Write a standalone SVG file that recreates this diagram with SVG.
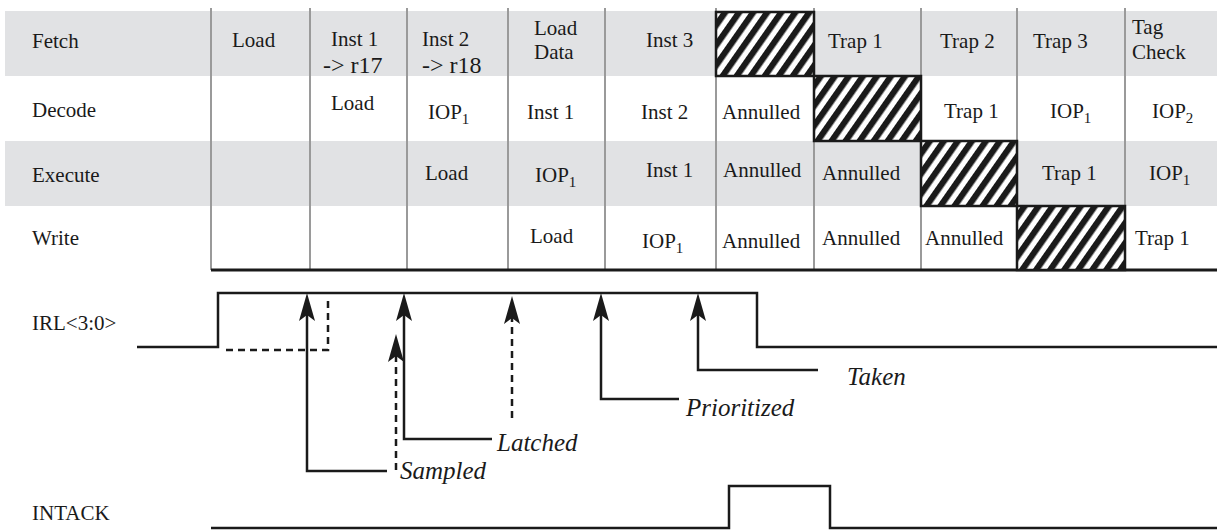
<svg xmlns="http://www.w3.org/2000/svg" width="1217" height="530" viewBox="0 0 1217 530">
<style>
.t{font-family:"Liberation Serif","Times New Roman",serif;font-size:21px;fill:#1a1a1a}
.big{font-size:24px}
.it{font-family:"Liberation Serif","Times New Roman",serif;font-style:italic;font-size:25px;fill:#1a1a1a}
.band{fill:#e1e2e4}
.grid{stroke:#9a9a9a;stroke-width:2;fill:none}
.sig{stroke:#1a1a1a;stroke-width:2.5;fill:none}
.dash{stroke:#1a1a1a;stroke-width:2.5;fill:none;stroke-dasharray:7 5}
.hatch{fill:url(#stripes);stroke:#1a1a1a;stroke-width:2.5}
</style>
<defs>
<pattern id="stripes" patternUnits="userSpaceOnUse" width="11.5" height="20" patternTransform="rotate(35)">
<rect width="11.5" height="20" fill="#fff"/>
<rect width="6.2" height="20" fill="#1a1a1a"/>
</pattern>
<marker id="ah" viewBox="0 0 28 16" markerWidth="28" markerHeight="16" refX="10" refY="8" orient="auto" markerUnits="userSpaceOnUse">
<path d="M0,0 L28,8 L0,16 L6,8 Z" fill="#1a1a1a"/>
</marker>
</defs>
<g id="table-bg">
<rect class="band" x="5" y="11" width="1212" height="65"/>
<rect class="band" x="5" y="141" width="1212" height="65"/>
</g>
<g id="table-grid">
<path class="grid" d="M211 8V270M310 8V270M407 8V270M508 8V270M605 8V270M716 8V270M814 8V270M921 8V270M1017 8V270M1125 8V270"/>
<line x1="211" y1="270" x2="1217" y2="270" stroke="#1a1a1a" stroke-width="3"/>
</g>
<g id="hatch-blocks">
<rect class="hatch" x="716" y="12" width="98" height="64"/>
<rect class="hatch" x="814" y="76" width="107" height="65"/>
<rect class="hatch" x="921" y="141" width="96" height="65"/>
<rect class="hatch" x="1017" y="206" width="108" height="64"/>
</g>
<g id="row-fetch">
<text class="t" x="32" y="48">Fetch</text>
<text class="t" x="232" y="47">Load</text>
<text class="t" x="331" y="46">Inst 1</text>
<text class="t big" x="323" y="73">-&gt; r17</text>
<text class="t" x="422" y="46">Inst 2</text>
<text class="t big" x="422" y="73">-&gt; r18</text>
<text class="t" x="534" y="35">Load</text>
<text class="t" x="534" y="59">Data</text>
<text class="t" x="646" y="47">Inst 3</text>
<text class="t" x="828" y="48">Trap 1</text>
<text class="t" x="940" y="48">Trap 2</text>
<text class="t" x="1033" y="48">Trap 3</text>
<text class="t" x="1132" y="34">Tag</text>
<text class="t" x="1132" y="59">Check</text>
</g>
<g id="row-decode">
<text class="t" x="32" y="117">Decode</text>
<text class="t" x="331" y="110">Load</text>
<text class="t" x="428" y="119">IOP<tspan font-size="15" dy="5">1</tspan></text>
<text class="t" x="527" y="119">Inst 1</text>
<text class="t" x="641" y="119">Inst 2</text>
<text class="t" x="722" y="119">Annulled</text>
<text class="t" x="944" y="118">Trap 1</text>
<text class="t" x="1050" y="118">IOP<tspan font-size="15" dy="5">1</tspan></text>
<text class="t" x="1152" y="118">IOP<tspan font-size="15" dy="5">2</tspan></text>
</g>
<g id="row-execute">
<text class="t" x="32" y="182">Execute</text>
<text class="t" x="425" y="180">Load</text>
<text class="t" x="535" y="182">IOP<tspan font-size="15" dy="5">1</tspan></text>
<text class="t" x="646" y="177">Inst 1</text>
<text class="t" x="723" y="177">Annulled</text>
<text class="t" x="822" y="180">Annulled</text>
<text class="t" x="1042" y="180">Trap 1</text>
<text class="t" x="1149" y="180">IOP<tspan font-size="15" dy="5">1</tspan></text>
</g>
<g id="row-write">
<text class="t" x="32" y="245">Write</text>
<text class="t" x="530" y="243">Load</text>
<text class="t" x="642" y="248">IOP<tspan font-size="15" dy="5">1</tspan></text>
<text class="t" x="722" y="248">Annulled</text>
<text class="t" x="822" y="245">Annulled</text>
<text class="t" x="925" y="245">Annulled</text>
<text class="t" x="1135" y="245">Trap 1</text>
</g>
<g id="signal-irl">
<text class="t" x="32" y="330">IRL&lt;3:0&gt;</text>
<path class="sig" d="M137 347H218V293H757V347H1217"/>
<path class="dash" d="M226 350H328V296"/>
</g>
<g id="signal-intack">
<text class="t" x="32" y="520">INTACK</text>
<path class="sig" d="M211 528H729V486H830V528H1217"/>
</g>
<g id="connectors">
<path class="sig" d="M387 471H307V311" marker-end="url(#ah)"/>
<path class="dash" d="M396 470V352" marker-end="url(#ah)"/>
<path class="sig" d="M492 439H404V311" marker-end="url(#ah)"/>
<path class="dash" d="M512 418V314" marker-end="url(#ah)"/>
<path class="sig" d="M679 399H601V311" marker-end="url(#ah)"/>
<path class="sig" d="M818 370H698V311" marker-end="url(#ah)"/>
</g>
<g id="labels">
<text class="it" x="400" y="479">Sampled</text>
<text class="it" x="497" y="451">Latched</text>
<text class="it" x="686" y="416">Prioritized</text>
<text class="it" x="847" y="385">Taken</text>
</g>
</svg>
